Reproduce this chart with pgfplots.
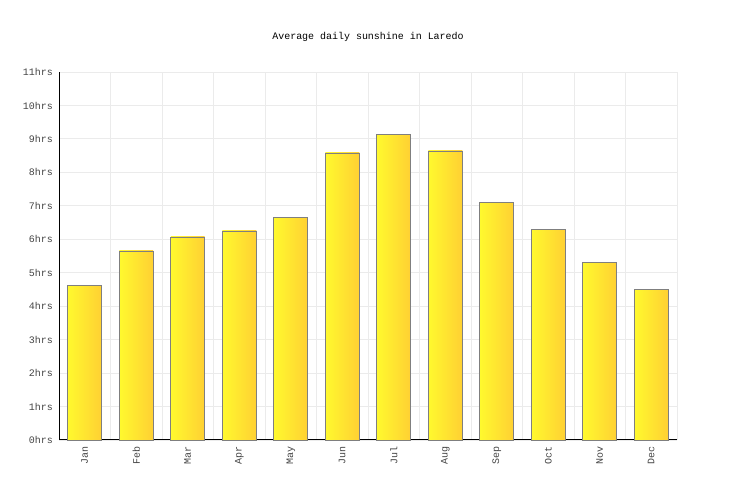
\documentclass[border=0pt]{standalone}
\usepackage{pgfplots}
\pgfplotsset{compat=1.18}
\usepackage{fontspec}
\setmonofont{Liberation Mono}
\definecolor{barL}{HTML}{FFF92E}
\definecolor{barR}{HTML}{FFD033}
\definecolor{barEdge}{HTML}{7F7F7F}
\definecolor{gridc}{HTML}{EBEBEB}
\definecolor{labc}{HTML}{444444}
\pgfplotsset{sunbar/.style={ybar, bar width=0.66, bar shift=0pt, draw=barEdge,
  line width=0.8pt, left color=barL, right color=barR}}
\begin{document}
\begin{tikzpicture}[x=1bp,y=1bp]
\path[use as bounding box] (0,0) rectangle (736,500);
\node[font=\ttfamily\fontsize{10}{11}\selectfont, text=black] at (368,463) {Average daily sunshine in Laredo};
\begin{axis}[
  at={(59bp,60bp)}, anchor=south west,
  scale only axis, width=618bp, height=368bp,
  xmin=-0.5, xmax=11.5, ymin=0, ymax=11,
  axis x line*=bottom, axis y line*=left,
  axis line style={black, -, line width=1pt},
  xtick={0,...,11},
  xticklabels={Jan,Feb,Mar,Apr,May,Jun,Jul,Aug,Sep,Oct,Nov,Dec},
  minor xtick={-0.5,0.5,...,11.5},
  ytick={0,...,11},
  yticklabels={0hrs,1hrs,2hrs,3hrs,4hrs,5hrs,6hrs,7hrs,8hrs,9hrs,10hrs,11hrs},
  major tick length=0pt, minor tick length=0pt,
  ymajorgrids, xminorgrids,
  grid style={gridc, line width=0.8pt},
  xticklabel style={rotate=90, anchor=east, font=\ttfamily\fontsize{10}{11}\selectfont, text=labc, inner sep=0pt, xshift=-6bp},
  yticklabel style={font=\ttfamily\fontsize{10}{11}\selectfont, text=labc, inner sep=0pt, xshift=-6bp},
  clip=false,
]
\addplot[sunbar] coordinates {(0,4.63)};
\addplot[sunbar] coordinates {(1,5.65)};
\addplot[sunbar] coordinates {(2,6.07)};
\addplot[sunbar] coordinates {(3,6.25)};
\addplot[sunbar] coordinates {(4,6.64)};
\addplot[sunbar] coordinates {(5,8.58)};
\addplot[sunbar] coordinates {(6,9.12)};
\addplot[sunbar] coordinates {(7,8.64)};
\addplot[sunbar] coordinates {(8,7.11)};
\addplot[sunbar] coordinates {(9,6.28)};
\addplot[sunbar] coordinates {(10,5.32)};
\addplot[sunbar] coordinates {(11,4.51)};
\end{axis}
\end{tikzpicture}
\end{document}
